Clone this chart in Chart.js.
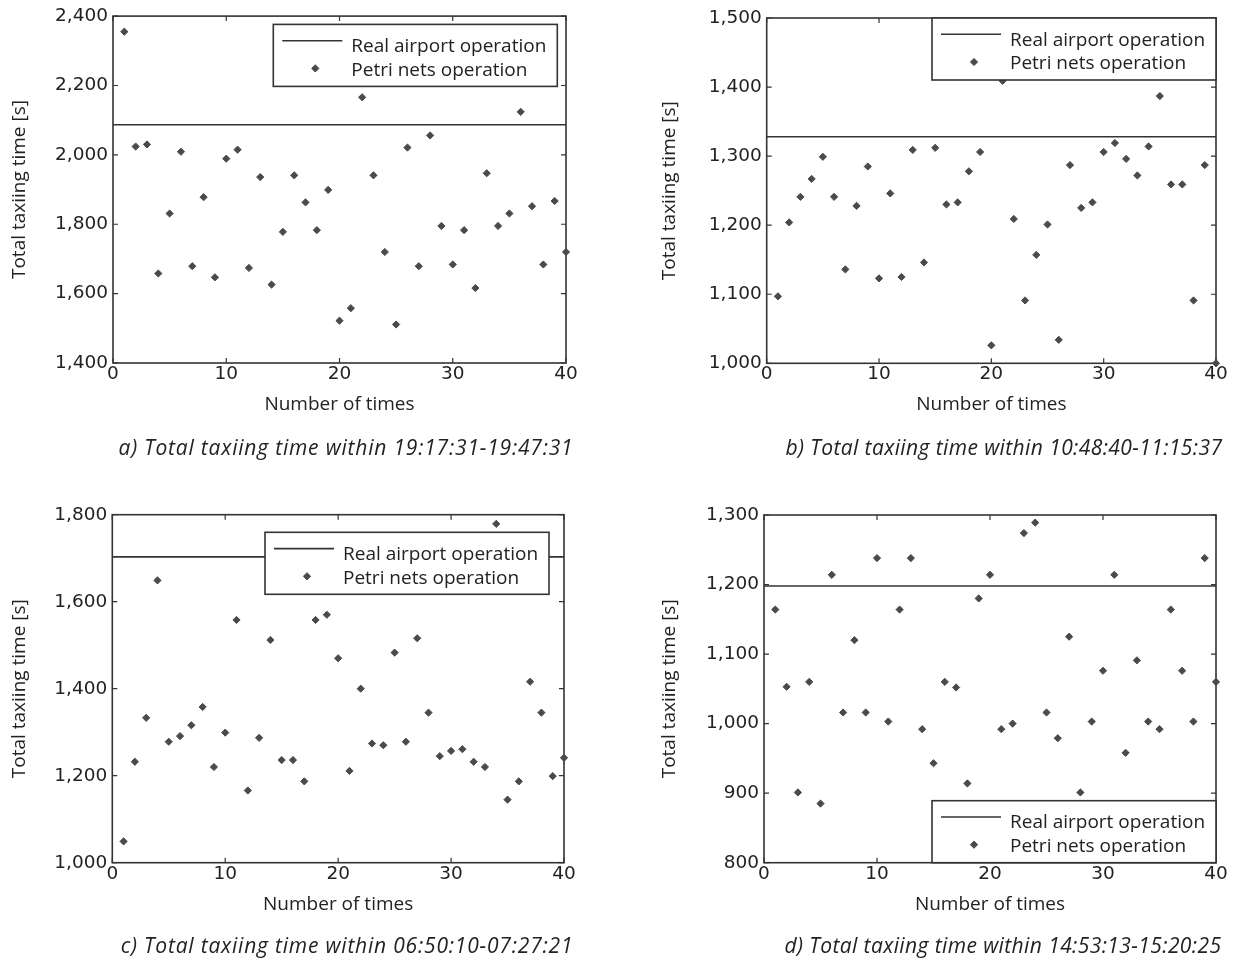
<!DOCTYPE html>
<html><head><meta charset="utf-8">
<script src="https://cdn.jsdelivr.net/npm/chart.js@4"></script>
<style>
html,body{margin:0;padding:0;background:#fff;}
body{width:1237px;height:967px;position:relative;overflow:hidden;}
canvas{position:absolute;}
.cap{position:absolute;font-family:"Open Sans";font-style:italic;font-size:21px;letter-spacing:0.8px;color:#222;white-space:nowrap;transform:translate(-50%,-50%);}
.cap.r{letter-spacing:0.4px;}
</style></head><body>
<canvas id="ca"></canvas><canvas id="cb"></canvas><canvas id="cc"></canvas><canvas id="cd"></canvas>
<div class="cap" id="capa" style="left:346px;top:447px"></div>
<div class="cap r" id="capb" style="left:1004px;top:447px"></div>
<div class="cap" id="capc" style="left:347px;top:945px"></div>
<div class="cap r" id="capd" style="left:1003px;top:945px"></div>
<script>
// ---- data ----
const runs = [1,2,3,4,5,6,7,8,9,10,11,12,13,14,15,16,17,18,19,20,21,22,23,24,25,26,27,28,29,30,31,32,33,34,35,36,37,38,39,40];
const xTicks = [0,10,20,30,40];
const seriesLabels = ['Real airport operation','Petri nets operation'];
const xTitle = 'Number of times';
const yTitle = 'Total taxiing time [s]';

const valuesA = [2355,2024,2030,1658,1831,2009,1679,1878,1647,1989,2015,1674,1936,1626,1778,1941,1863,1783,1899,1522,1558,2166,1941,1720,1511,2021,1679,2056,1795,1684,1783,1616,1947,1795,1831,2124,1852,1684,1867,1720];
const realA = 2087;
const yTicksA = [1400,1600,1800,2000,2200,2400];
const captionA = 'a) Total taxiing time within 19:17:31-19:47:31';

const valuesB = [1097,1204,1241,1267,1299,1241,1136,1228,1285,1123,1246,1125,1309,1146,1312,1230,1233,1278,1306,1026,1409,1209,1091,1157,1201,1034,1287,1225,1233,1306,1319,1296,1272,1314,1387,1259,1259,1091,1287,1000];
const realB = 1328;
const yTicksB = [1000,1100,1200,1300,1400,1500];
const captionB = 'b) Total taxiing time within 10:48:40-11:15:37';

const valuesC = [1049,1232,1333,1649,1278,1291,1316,1358,1220,1299,1558,1166,1287,1512,1236,1236,1187,1558,1570,1470,1211,1400,1274,1270,1483,1278,1516,1345,1245,1257,1261,1232,1220,1779,1145,1187,1416,1345,1199,1241];
const realC = 1703;
const yTicksC = [1000,1200,1400,1600,1800];
const captionC = 'c) Total taxiing time within 06:50:10-07:27:21';

const valuesD = [1164,1053,901,1060,885,1214,1016,1120,1016,1238,1003,1164,1238,992,943,1060,1052,914,1180,1214,992,1000,1274,1289,1016,979,1125,901,1003,1076,1214,958,1091,1003,992,1164,1076,1003,1238,1060];
const realD = 1198;
const yTicksD = [800,900,1000,1100,1200,1300];
const captionD = 'd) Total taxiing time within 14:53:13-15:20:25';

// ---- styling / layout ----
const INK = '#333';
const TXT = '#222';
const PT = '#4a4a4a';
const tickFont = {family:'"DejaVu Sans"', size:18.5};
const titleFont = {family:'"Open Sans"', size:19, lineHeight:1.2};

const panels = [
  {id:'ca', cap:'capa', caption:captionA, values:valuesA, real:realA, yTicks:yTicksA,
   canvas:{l:0,t:0,w:620,h:480}, area:{L:113,R:566,T:15,B:363}, tX:20, legend:{v:'top',gapR:8.7,gapV:8.3}},
  {id:'cb', cap:'capb', caption:captionB, values:valuesB, real:realB, yTicks:yTicksB,
   canvas:{l:620,t:0,w:617,h:480}, area:{L:766.7,R:1216,T:18,B:363.3}, tX:670, legend:{v:'top',gapR:0,gapV:0}},
  {id:'cc', cap:'capc', caption:captionC, values:valuesC, real:realC, yTicks:yTicksC,
   canvas:{l:0,t:480,w:620,h:487}, area:{L:112.3,R:564,T:514.7,B:862.7}, tX:20, legend:{v:'top',gapR:15,gapV:17.6}},
  {id:'cd', cap:'capd', caption:captionD, values:valuesD, real:realD, yTicks:yTicksD,
   canvas:{l:620,t:480,w:617,h:487}, area:{L:764,R:1216,T:515,B:862.7}, tX:670, legend:{v:'bottom',gapR:0,gapV:0}}
];

const framePlugin = {
  id:'frame',
  beforeDatasetsDraw(chart){
    const {ctx, chartArea:a, scales:{x,y}} = chart;
    ctx.save();
    ctx.strokeStyle = INK;
    ctx.lineWidth = 1.2;
    ctx.beginPath();
    x.ticks.forEach(t=>{const px=x.getPixelForValue(t.value);
      ctx.moveTo(px,a.bottom); ctx.lineTo(px,a.bottom-5);
      ctx.moveTo(px,a.top); ctx.lineTo(px,a.top+5);});
    y.ticks.forEach(t=>{const py=y.getPixelForValue(t.value);
      ctx.moveTo(a.left,py); ctx.lineTo(a.left+5,py);
      ctx.moveTo(a.right,py); ctx.lineTo(a.right-5,py);});
    ctx.stroke();
    ctx.lineWidth = 1.6;
    ctx.strokeRect(a.left, a.top, a.right-a.left, a.bottom-a.top);
    ctx.restore();
  }
};

function diamond(ctx, x, y, r){
  ctx.beginPath();
  ctx.moveTo(x-r,y); ctx.lineTo(x,y-r); ctx.lineTo(x+r,y); ctx.lineTo(x,y+r); ctx.closePath();
  ctx.fillStyle = PT; ctx.strokeStyle = PT; ctx.lineWidth = 1;
  ctx.fill(); ctx.stroke();
}

const boxLegend = {
  id:'boxLegend',
  afterDatasetsDraw(chart, args, opts){
    const {ctx, chartArea:a} = chart;
    const w = 284, h = 62;
    const left = a.right - opts.gapR - w;
    const top = opts.v === 'top' ? a.top + opts.gapV : a.bottom - opts.gapV - h;
    const ds = chart.data.datasets;
    ctx.save();
    ctx.fillStyle = '#fff'; ctx.fillRect(left, top, w, h);
    ctx.strokeStyle = INK; ctx.lineWidth = 1.6; ctx.strokeRect(left, top, w, h);
    ctx.beginPath(); ctx.moveTo(left+9, top+16.3); ctx.lineTo(left+69, top+16.3);
    ctx.lineWidth = 1.6; ctx.stroke();
    diamond(ctx, left+42, top+44, 3.6);
    ctx.font = '19px "Open Sans"'; ctx.fillStyle = TXT; ctx.textBaseline = 'alphabetic'; ctx.textAlign = 'left';
    ctx.fillText(ds[0].label, left+78, top+27.5);
    ctx.fillText(ds[1].label, left+78, top+51.3);
    ctx.restore();
  }
};

panels.forEach(p=>{
  const cv = document.getElementById(p.id);
  cv.width = p.canvas.w; cv.height = p.canvas.h;
  cv.style.left = p.canvas.l+'px'; cv.style.top = p.canvas.t+'px';
  cv.style.width = p.canvas.w+'px'; cv.style.height = p.canvas.h+'px';
  document.getElementById(p.cap).textContent = p.caption;
  const half = titleFont.size*titleFont.lineHeight/2;
  const padL = p.tX - p.canvas.l - half;
  const yW = p.area.L - p.canvas.l - padL;
  const padT = p.area.T - p.canvas.t;
  const padR = p.canvas.l + p.canvas.w - p.area.R;
  const xH = 57;
  const padB = p.canvas.t + p.canvas.h - p.area.B - xH;
  const yStep = p.yTicks[1]-p.yTicks[0];
  new Chart(cv.getContext('2d'), {
    type:'scatter',
    data:{datasets:[
      {label:seriesLabels[0], type:'line',
       data:[{x:xTicks[0],y:p.real},{x:xTicks[xTicks.length-1],y:p.real}],
       borderColor:INK, borderWidth:1.6, pointRadius:0, clip:false, order:1},
      {label:seriesLabels[1],
       data:runs.map((r,i)=>({x:r,y:p.values[i]})),
       pointStyle:'rectRot', pointRadius:3.6, backgroundColor:PT, borderColor:PT, borderWidth:1, clip:false, order:0}
    ]},
    options:{
      responsive:false, animation:false, devicePixelRatio:1,
      layout:{padding:{left:padL,right:padR,top:padT,bottom:padB}},
      plugins:{legend:{display:false}, tooltip:{enabled:false}, boxLegend:p.legend},
      scales:{
        x:{type:'linear', min:xTicks[0], max:xTicks[xTicks.length-1],
           ticks:{stepSize:xTicks[1]-xTicks[0], padding:0, font:tickFont, color:TXT, maxRotation:0},
           grid:{display:false, drawTicks:false}, border:{display:false},
           title:{display:true, text:xTitle, font:titleFont, color:TXT, padding:{top:0,bottom:4}},
           afterFit(s){ s.height = xH; }},
        y:{type:'linear', min:p.yTicks[0], max:p.yTicks[p.yTicks.length-1],
           ticks:{stepSize:yStep, padding:5, font:tickFont, color:TXT},
           grid:{display:false, drawTicks:false}, border:{display:false},
           title:{display:true, text:yTitle, font:titleFont, color:TXT, padding:{top:0,bottom:0}},
           afterFit(s){ s.width = yW; }}
      }
    },
    plugins:[framePlugin, boxLegend]
  });
});
</script>
</body></html>
